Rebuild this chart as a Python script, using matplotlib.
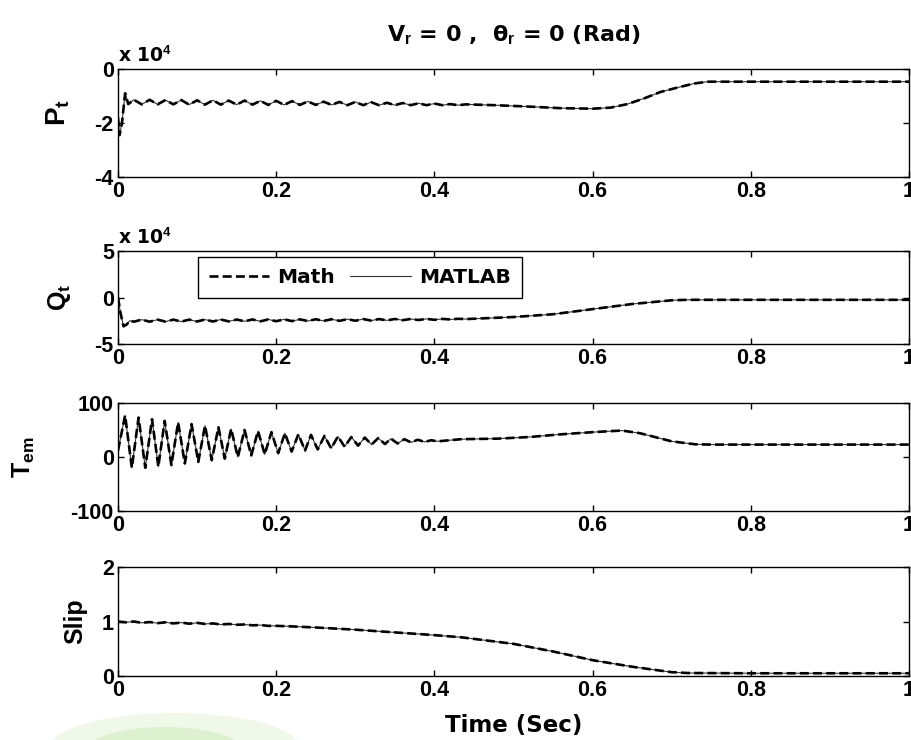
import matplotlib
matplotlib.use('Agg')
import matplotlib.pyplot as plt
from matplotlib.patches import Ellipse

plt.rcParams['font.family'] = ['Liberation Sans', 'DejaVu Sans']
plt.rcParams['font.weight'] = 'bold'
plt.rcParams['mathtext.fontset'] = 'custom'
plt.rcParams['mathtext.bf'] = 'Liberation Sans:bold'
plt.rcParams['mathtext.rm'] = 'Liberation Sans:bold'
plt.rcParams['mathtext.it'] = 'Liberation Sans:bold'
plt.rcParams['mathtext.default'] = 'bf'

# ---------------- data ----------------
# P_t (x 1e4)
p_time = [0.000, 0.002, 0.005, 0.009, 0.013,
          0.020, 0.030, 0.040, 0.050, 0.060, 0.070, 0.080, 0.090, 0.100, 0.110,
          0.120, 0.130, 0.140, 0.150, 0.160, 0.170, 0.180, 0.190, 0.200, 0.210,
          0.220, 0.230, 0.240, 0.250, 0.260, 0.270, 0.280, 0.290, 0.300, 0.310,
          0.320, 0.330, 0.340, 0.350, 0.360, 0.370, 0.380, 0.390, 0.400, 0.410,
          0.420, 0.430, 0.440,
          0.476, 0.518, 0.559, 0.600, 0.623, 0.644, 0.665, 0.686, 0.707, 0.728,
          0.745, 0.800, 0.900, 1.000]
p_vals = [-1.80, -2.45, -2.00, -0.90, -1.30,
          -1.14, -1.31, -1.14, -1.31, -1.15, -1.31, -1.15, -1.32, -1.16, -1.32,
          -1.16, -1.32, -1.17, -1.32, -1.17, -1.32, -1.18, -1.33, -1.18, -1.33,
          -1.19, -1.33, -1.20, -1.33, -1.21, -1.33, -1.22, -1.34, -1.22, -1.34,
          -1.23, -1.34, -1.25, -1.34, -1.26, -1.34, -1.27, -1.34, -1.28, -1.34,
          -1.30, -1.34, -1.31,
          -1.34, -1.39, -1.45, -1.47, -1.43, -1.30, -1.09, -0.85, -0.69, -0.54,
          -0.47, -0.47, -0.47, -0.47]

# Q_t (x 1e4)
q_time = [0.000, 0.003, 0.007, 0.011, 0.015,
          0.020, 0.030, 0.040, 0.050, 0.060, 0.070, 0.080, 0.090, 0.100, 0.110,
          0.120, 0.130, 0.140, 0.150, 0.160, 0.170, 0.180, 0.190, 0.200, 0.210,
          0.220, 0.230, 0.240, 0.250, 0.260, 0.270, 0.280, 0.290, 0.300, 0.310,
          0.320, 0.330, 0.340, 0.350, 0.360, 0.370, 0.380, 0.390, 0.400, 0.410,
          0.420, 0.430, 0.440,
          0.500, 0.550, 0.600, 0.650, 0.700, 0.720, 0.800, 0.900, 1.000]
q_vals = [0.00, -1.60, -3.10, -2.90, -2.50,
          -2.60, -2.38, -2.60, -2.38, -2.59, -2.38, -2.59, -2.38, -2.58, -2.37,
          -2.58, -2.37, -2.57, -2.37, -2.56, -2.36, -2.56, -2.36, -2.55, -2.35,
          -2.54, -2.35, -2.53, -2.34, -2.52, -2.34, -2.51, -2.33, -2.50, -2.32,
          -2.48, -2.32, -2.46, -2.31, -2.44, -2.31, -2.42, -2.30, -2.40, -2.30,
          -2.36, -2.29, -2.32,
          -2.10, -1.80, -1.25, -0.70, -0.30, -0.25, -0.25, -0.25, -0.25]

# T_em
tem_time = [0.000,
            0.0090, 0.0175, 0.0260, 0.0345, 0.0430, 0.0510, 0.0590, 0.0675,
            0.0760, 0.0845, 0.0930, 0.1015, 0.1100, 0.1185, 0.1270, 0.1350,
            0.1430, 0.1515, 0.1600, 0.1685, 0.1770, 0.1855, 0.1940, 0.2025,
            0.2110, 0.2195, 0.2280, 0.2365, 0.2440, 0.2525, 0.2610, 0.2695,
            0.2780, 0.2865, 0.2950, 0.3035, 0.3120, 0.3205, 0.3290, 0.3375,
            0.3450, 0.3535, 0.3620, 0.3705, 0.3790, 0.3875, 0.3960, 0.4040,
            0.434, 0.480, 0.520, 0.560, 0.600, 0.637, 0.660, 0.700, 0.730,
            0.750, 0.850, 1.000]
tem_vals = [12.0,
            77.0, -20.0, 73.0, -20.0, 70.0, -18.0, 67.0, -15.0,
            64.0, -12.0, 61.0, -9.0, 58.0, -6.0, 55.0, -3.0,
            52.0, 0.0, 50.0, 3.0, 48.0, 5.0, 46.0, 7.0,
            44.0, 10.0, 42.0, 12.0, 41.0, 14.0, 39.0, 16.0,
            38.0, 19.0, 37.0, 21.0, 36.0, 23.0, 35.0, 24.0,
            34.0, 25.0, 33.0, 27.0, 32.0, 28.0, 31.0, 29.0,
            33.0, 34.0, 37.0, 42.0, 46.0, 49.0, 44.0, 29.0, 23.5,
            23.0, 23.0, 23.0]

# Slip
slip_time = [0.000, 0.010, 0.020, 0.030, 0.040, 0.050, 0.060, 0.070, 0.080,
             0.090, 0.100, 0.110, 0.120, 0.130, 0.140, 0.150, 0.160, 0.170,
             0.180, 0.190, 0.200, 0.220, 0.250, 0.300, 0.350, 0.400, 0.434,
             0.500, 0.550, 0.600, 0.650, 0.700, 0.720, 0.800, 0.900, 1.000]
slip_vals = [1.00, 0.985, 1.00, 0.975, 0.99, 0.97, 0.985, 0.965, 0.98,
             0.96, 0.975, 0.955, 0.965, 0.945, 0.955, 0.94, 0.945, 0.93,
             0.935, 0.92, 0.92, 0.91, 0.89, 0.85, 0.80, 0.75, 0.71,
             0.59, 0.45, 0.29, 0.17, 0.07, 0.055, 0.05, 0.05, 0.05]

x_ticks = [0, 0.2, 0.4, 0.6, 0.8, 1.0]
x_tick_labels = ['0', '0.2', '0.4', '0.6', '0.8', '1']

panels = [
    dict(t=p_time, v=p_vals, ylabel='P$_t$', yticks=[-4, -2, 0], ylim=(-4, 0), mult=True),
    dict(t=q_time, v=q_vals, ylabel='Q$_t$', yticks=[-5, 0, 5], ylim=(-5, 5), mult=True),
    dict(t=tem_time, v=tem_vals, ylabel='T$_{em}$', yticks=[-100, 0, 100], ylim=(-100, 100), mult=False),
    dict(t=slip_time, v=slip_vals, ylabel='Slip', yticks=[0, 1, 2], ylim=(0, 2), mult=False),
]

# ---------------- figure ----------------
W, H = 911, 740
fig = plt.figure(figsize=(W / 100, H / 100), dpi=100)

# faint watermark blob near bottom-left
fig.patches.append(Ellipse((175 / W, 1 - 748 / H), 250 / W, 70 / H,
                           transform=fig.transFigure, facecolor='#f0f8ea',
                           edgecolor='none', zorder=0))
fig.patches.append(Ellipse((165 / W, 1 - 752 / H), 160 / W, 50 / H,
                           transform=fig.transFigure, facecolor='#ddf0cf',
                           edgecolor='none', zorder=0))

boxes = [(69, 177), (251, 344), (403, 511), (567, 676)]
# (right edge x px, centre y as axes fraction, size) of each y label
label_pos = [(72, 0.60, 20), (73, 0.5, 18), (37, 0.5, 18), (87, 0.5, 18)]
left, right = 118, 909
axes = []
for (top, bot), pdef, (lx, ly, ls) in zip(boxes, panels, label_pos):
    ax = fig.add_axes([left / W, 1 - bot / H, (right - left) / W, (bot - top) / H])
    ax.set_facecolor('none')
    ax.plot(pdef['t'], pdef['v'], color='#333333', lw=0.8, ls='-', label='MATLAB', zorder=2)
    ax.plot(pdef['t'], pdef['v'], color='black', lw=1.9, ls=(0, (3.4, 1.6)), label='Math', zorder=3)
    ax.set_xlim(0, 1)
    ax.set_ylim(*pdef['ylim'])
    ax.set_xticks(x_ticks)
    ax.set_xticklabels(x_tick_labels)
    ax.set_yticks(pdef['yticks'])
    ax.set_yticklabels([str(v) for v in pdef['yticks']])
    ax.tick_params(direction='in', length=4, width=1, top=True, right=True,
                   labelsize=15.5, pad=3)
    for s in ax.spines.values():
        s.set_linewidth(1.0)
    ax.set_ylabel(pdef['ylabel'], fontsize=ls, fontweight='bold')
    ax.yaxis.set_label_coords((lx - left) / (right - left), ly)
    if pdef['mult']:
        ax.text(0.0, 1.03, 'x 10$^{4}$', transform=ax.transAxes, ha='left', va='bottom',
                fontsize=13.5, fontweight='bold', family='DejaVu Sans')
    axes.append(ax)

axes[0].set_title('V$_r$ = 0 ,  θ$_r$ = 0 (Rad)', fontsize=16, fontweight='bold',
                  family='DejaVu Sans', pad=20)
axes[3].set_xlabel('Time (Sec)', fontsize=16.5, fontweight='bold', family='DejaVu Sans',
                   labelpad=9)

h, l = axes[1].get_legend_handles_labels()
leg = axes[1].legend([h[1], h[0]], [l[1], l[0]], ncol=2, loc='upper left',
                     bbox_to_anchor=((198 - left) / (right - left), (344 - 257) / (344 - 251)),
                     borderaxespad=0, fancybox=False, framealpha=1, edgecolor='black',
                     prop=dict(family='DejaVu Sans', weight='bold', size=14.5),
                     handlelength=3.0, handletextpad=0.4, columnspacing=0.75,
                     borderpad=0.55)
leg.get_frame().set_linewidth(1.0)

fig.savefig('out.png', dpi=100)
